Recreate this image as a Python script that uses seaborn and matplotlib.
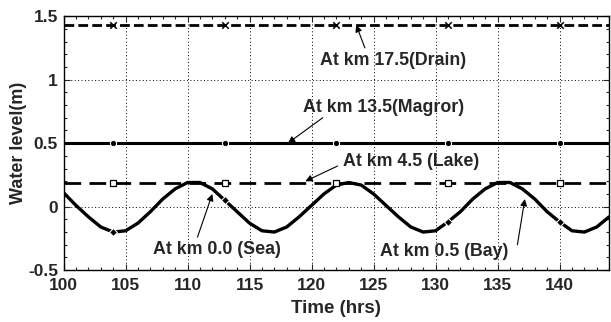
import matplotlib
matplotlib.use("Agg")
import matplotlib.pyplot as plt
import seaborn as sns
import pandas as pd
from matplotlib.ticker import MultipleLocator

# hourly water level at km 0.0 / 0.5
hours = list(range(100, 145))
sea_level = [0.11, 0.01, -0.08, -0.16, -0.2, -0.19, -0.13, -0.04, 0.06, 0.14,
             0.19, 0.19, 0.14, 0.05, -0.04, -0.13, -0.19, -0.2, -0.16, -0.08,
             0.01, 0.1, 0.17, 0.19, 0.17, 0.1, 0.01, -0.08, -0.16, -0.2,
             -0.19, -0.12, -0.04, 0.06, 0.14, 0.19, 0.19, 0.14, 0.06, -0.04,
             -0.12, -0.19, -0.2, -0.16, -0.08]

# nearly constant stations, sampled at the marker hours
station_hours = [100, 104, 113, 122, 131, 140, 144]
drain_level = [1.43, 1.43, 1.43, 1.43, 1.43, 1.43, 1.43]
magror_level = [0.5, 0.5, 0.5, 0.5, 0.5, 0.5, 0.5]
lake_level = [0.19, 0.19, 0.19, 0.19, 0.19, 0.19, 0.19]

y_ticks = [-0.5, 0, 0.5, 1, 1.5]
y_tick_labels = ["-0.5", "0", "0.5", "1", "1.5"]
x_ticks = [100, 105, 110, 115, 120, 125, 130, 135, 140]

sns.set_style("ticks")
plt.rcParams["font.family"] = ["Liberation Sans", "DejaVu Sans"]
plt.rcParams["font.weight"] = "bold"

sea = pd.DataFrame({"t": hours, "h": sea_level})
st = pd.DataFrame({"t": station_hours, "drain": drain_level,
                   "magror": magror_level, "lake": lake_level})
marks = st.iloc[1:-1]

fig = plt.figure(figsize=(6.11, 3.22), dpi=100)
ax = fig.add_axes([0.104, 0.161, 0.893, 0.789])

sns.lineplot(data=sea, x="t", y="h", ax=ax, color="black", lw=2.4,
             marker="D", ms=4.5, markevery=[4, 13, 31, 40])
sns.lineplot(data=st, x="t", y="drain", ax=ax, color="black", lw=2,
             linestyle=(0, (3.5, 1.5)))
sns.scatterplot(data=marks, x="t", y="drain", ax=ax, color="black",
                marker="x", s=22, linewidth=1.1, zorder=4)
sns.lineplot(data=st, x="t", y="magror", ax=ax, color="black", lw=2.2,
             marker="o", ms=4.5, markevery=[1, 2, 3, 4, 5])
sns.lineplot(data=st, x="t", y="lake", ax=ax, color="black", lw=2,
             linestyle=(0, (6, 3)), marker="s", ms=5, mfc="white",
             mec="black", mew=0.9, markevery=[1, 2, 3, 4, 5])

ax.set_xlim(100, 144)
ax.set_ylim(-0.5, 1.5)
ax.set_xticks(x_ticks)
ax.set_yticks(y_ticks)
ax.set_yticklabels(y_tick_labels)
ax.xaxis.set_minor_locator(MultipleLocator(1))
ax.yaxis.set_minor_locator(MultipleLocator(0.1))
ax.tick_params(which="both", direction="in", top=True, right=True,
               labelsize=12.5, width=0.8)
ax.tick_params(axis="x", which="major", pad=6)
ax.tick_params(axis="y", which="major", pad=4)
ax.tick_params(which="major", length=4)
ax.tick_params(which="minor", length=2.5)
for lab in ax.get_xticklabels() + ax.get_yticklabels():
    lab.set_fontweight("bold")
ax.grid(True, which="major", color="black", linestyle=(0, (1, 2.5)), lw=0.7)
for s in ax.spines.values():
    s.set_linewidth(1)
    s.set_color("black")

ax.set_xlabel("Time (hrs)", fontsize=13.5, fontweight="bold", labelpad=5)
ax.set_ylabel("Water level(m)", fontsize=13, fontweight="bold", labelpad=1)

arrow = dict(arrowstyle="-|>", color="black", lw=0.8,
             mutation_scale=10, shrinkA=0, shrinkB=0)
tkw = dict(fontsize=12.8, fontweight="bold", va="center", ha="left")

# label text, then arrow from tail to tip
ax.text(120.7, 1.15, "At km 17.5(Drain)", **tkw)
ax.annotate("", xy=(123.6, 1.43), xytext=(124.3, 1.25), arrowprops=arrow)
ax.text(119.3, 0.78, "At km 13.5(Magror)", **tkw)
ax.annotate("", xy=(118.1, 0.5), xytext=(120.9, 0.70), arrowprops=arrow)
ax.text(122.5, 0.357, "At km 4.5 (Lake)", **tkw)
ax.annotate("", xy=(119.5, 0.2), xytext=(122.1, 0.32), arrowprops=arrow)
ax.text(107.2, -0.34, "At km 0.0 (Sea)", **tkw)
ax.annotate("", xy=(112.0, 0.1), xytext=(110.8, -0.24), arrowprops=arrow)
ax.text(125.5, -0.357, "At km 0.5 (Bay)", **tkw)
ax.annotate("", xy=(137.2, 0.06), xytext=(136.6, -0.30), arrowprops=arrow)

fig.savefig("out.png", dpi=100)
